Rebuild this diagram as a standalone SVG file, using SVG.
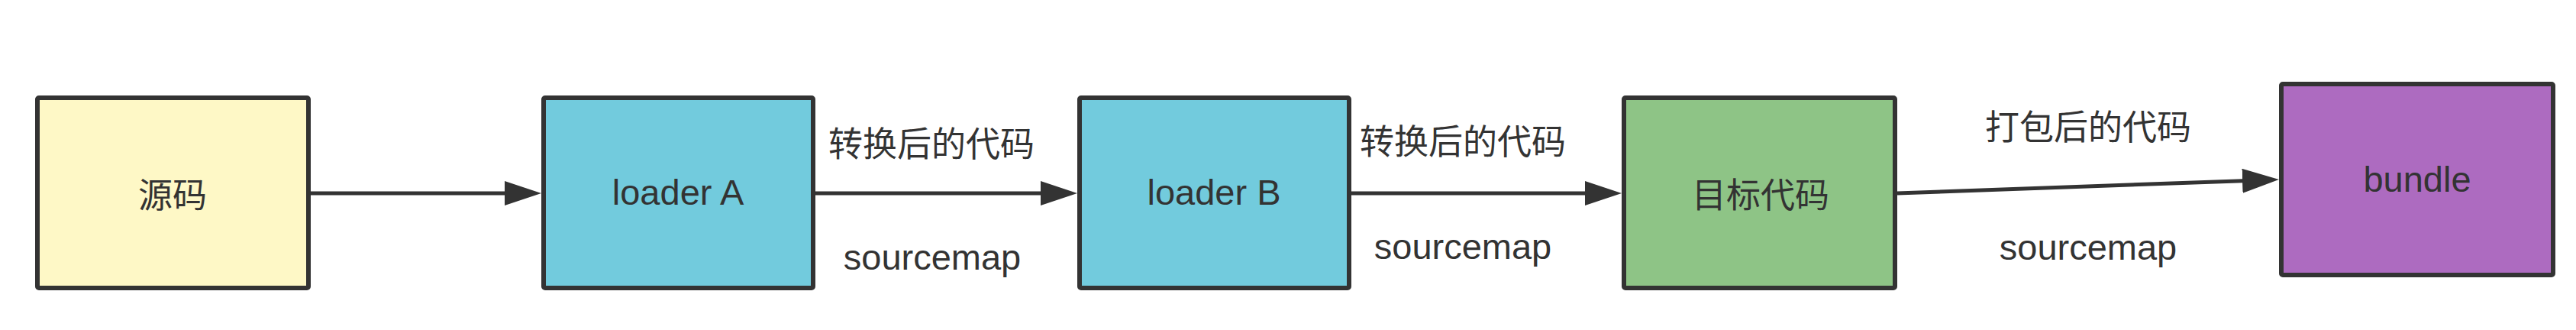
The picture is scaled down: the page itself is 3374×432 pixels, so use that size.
<svg xmlns="http://www.w3.org/2000/svg" width="3374" height="432" viewBox="0 0 3374 432">
  <defs>
    <style>
      .box { stroke: #333333; stroke-width: 6; }
      .conn { stroke: #333333; stroke-width: 5; fill: none; }
      .cjk { font-family: "Noto Sans CJK SC", "Noto Sans", sans-serif; font-size: 45px; fill: #333333; text-anchor: middle; dominant-baseline: central; }
      .lat { font-family: "Liberation Sans", Arial, sans-serif; font-size: 47px; fill: #333333; text-anchor: middle; }
    </style>
    <marker id="arrow" markerUnits="userSpaceOnUse" markerWidth="50" markerHeight="34" viewBox="0 0 50 34" refX="8" refY="16" orient="auto">
      <path d="M0,0 L48,16 L0,32 Z" fill="#333333"/>
    </marker>
  </defs>
  <rect width="3374" height="432" fill="#ffffff"/>

  <g id="connectors">
    <line class="conn" x1="407" y1="253" x2="669" y2="253" marker-end="url(#arrow)"/>
    <line class="conn" x1="1068" y1="253" x2="1371" y2="253" marker-end="url(#arrow)"/>
    <line class="conn" x1="1770" y1="253" x2="2084" y2="253" marker-end="url(#arrow)"/>
    <line class="conn" x1="2485" y1="253" x2="2945" y2="236.4" marker-end="url(#arrow)"/>
    <text class="cjk" x="1220" y="185">转换后的代码</text>
    <text class="lat" x="1221" y="353">sourcemap</text>
    <text class="cjk" x="1916" y="182">转换后的代码</text>
    <text class="lat" x="1916" y="339">sourcemap</text>
    <text class="cjk" x="2735" y="163">打包后的代码</text>
    <text class="lat" x="2735" y="340">sourcemap</text>
  </g>

  <g id="node-source">
    <rect class="box" x="49" y="128" width="355" height="249" rx="2" fill="#fef8c6"/>
    <text class="cjk" x="226" y="252">源码</text>
  </g>
  <g id="node-loader-a">
    <rect class="box" x="712" y="128" width="353" height="249" rx="2" fill="#72cbdd"/>
    <text class="lat" x="888" y="268">loader A</text>
  </g>
  <g id="node-loader-b">
    <rect class="box" x="1414" y="128" width="353" height="249" rx="2" fill="#72cbdd"/>
    <text class="lat" x="1590" y="268">loader B</text>
  </g>
  <g id="node-target">
    <rect class="box" x="2127" y="128" width="355" height="249" rx="2" fill="#8ec486"/>
    <text class="cjk" x="2306" y="252">目标代码</text>
  </g>
  <g id="node-bundle">
    <rect class="box" x="2988" y="110" width="356" height="250" rx="2" fill="#ad6bc0"/>
    <text class="lat" x="3166" y="251">bundle</text>
  </g>
</svg>
